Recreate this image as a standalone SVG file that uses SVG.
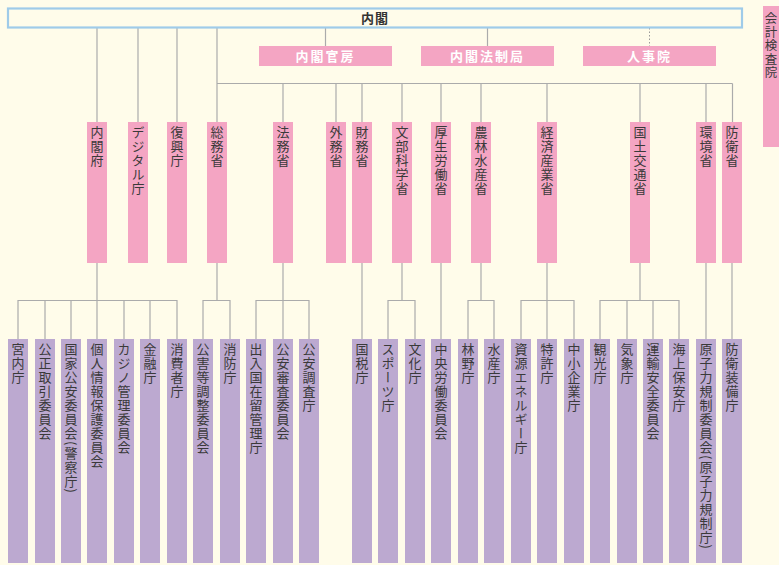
<svg xmlns="http://www.w3.org/2000/svg" width="779" height="565" viewBox="0 0 779 565">
<style>
.bg{fill:#fffcea}
.ln{stroke:#ababab;stroke-width:1.2;fill:none}
.dot{stroke:#9a9a9a;stroke-width:1;stroke-dasharray:1.5 2;fill:none}
.min{fill:#f4a5c3}
.ag{fill:#bca9d0}
.vt{font-family:"Noto Sans CJK JP","Noto Sans",sans-serif;font-size:13px;fill:#3a3a3a;writing-mode:vertical-rl;letter-spacing:1px}
.vt2{font-family:"Noto Sans CJK JP","Noto Sans",sans-serif;font-size:12.5px;fill:#3a3a3a;writing-mode:vertical-rl;letter-spacing:1px}
.wt{font-family:"Noto Sans CJK JP","Noto Sans",sans-serif;font-size:13px;fill:#ffffff;font-weight:bold;letter-spacing:2px;text-anchor:middle}
.tt{font-family:"Noto Sans CJK JP","Noto Sans",sans-serif;font-size:13px;fill:#333;font-weight:bold;letter-spacing:1px;text-anchor:middle}
</style>
<rect class="bg" x="0" y="0" width="779" height="565"/>

<g id="connectors">
  <line class="ln" x1="97" y1="28" x2="97" y2="122"/>
  <line class="ln" x1="138" y1="28" x2="138" y2="122"/>
  <line class="ln" x1="177" y1="28" x2="177" y2="122"/>
  <line class="ln" x1="217" y1="28" x2="217" y2="122"/>
  <line class="ln" x1="325.5" y1="28" x2="325.5" y2="46"/>
  <line class="ln" x1="487.5" y1="28" x2="487.5" y2="46"/>
  <line class="dot" x1="649.5" y1="28" x2="649.5" y2="46"/>
  <line class="ln" x1="217" y1="83.5" x2="732.5" y2="83.5"/>
  <line class="ln" x1="283" y1="83.5" x2="283" y2="122"/>
  <line class="ln" x1="336" y1="83.5" x2="336" y2="122"/>
  <line class="ln" x1="362" y1="83.5" x2="362" y2="122"/>
  <line class="ln" x1="402" y1="83.5" x2="402" y2="122"/>
  <line class="ln" x1="441" y1="83.5" x2="441" y2="122"/>
  <line class="ln" x1="481" y1="83.5" x2="481" y2="122"/>
  <line class="ln" x1="547" y1="83.5" x2="547" y2="122"/>
  <line class="ln" x1="640" y1="83.5" x2="640" y2="122"/>
  <line class="ln" x1="706" y1="83.5" x2="706" y2="122"/>
  <line class="ln" x1="732.5" y1="83.5" x2="732.5" y2="122"/>
  <line class="ln" x1="97" y1="263" x2="97" y2="339"/>
  <path class="ln" d="M18 339V300.5H177V339M45 300.5V339M71 300.5V339M124 300.5V339M150 300.5V339"/>
  <line class="ln" x1="217" y1="263" x2="217" y2="300.5"/>
  <path class="ln" d="M203 339V300.5H230V339"/>
  <line class="ln" x1="283" y1="263" x2="283" y2="339"/>
  <path class="ln" d="M256 339V300.5H309V339"/>
  <line class="ln" x1="362" y1="263" x2="362" y2="339"/>
  <line class="ln" x1="402" y1="263" x2="402" y2="300.5"/>
  <path class="ln" d="M388 339V300.5H415V339"/>
  <line class="ln" x1="441" y1="263" x2="441" y2="339"/>
  <line class="ln" x1="481" y1="263" x2="481" y2="300.5"/>
  <path class="ln" d="M468 339V300.5H494V339"/>
  <line class="ln" x1="547" y1="263" x2="547" y2="339"/>
  <path class="ln" d="M521 339V300.5H574V339"/>
  <line class="ln" x1="640" y1="263" x2="640" y2="300.5"/>
  <path class="ln" d="M600 339V300.5H679V339M627 300.5V339M653 300.5V339"/>
  <line class="ln" x1="706" y1="263" x2="706" y2="339"/>
  <line class="ln" x1="732" y1="263" x2="732" y2="339"/>
</g>

<g id="cabinet">
  <rect x="8" y="8.5" width="734" height="19" fill="#fffcea" stroke="#9fcbe9" stroke-width="2.2"/>
  <text class="tt" x="375" y="22.5">内閣</text>
</g>
<g id="cabinet-secretariat">
  <rect class="min" x="259" y="46" width="133" height="20"/>
  <text class="wt" x="325.5" y="60.5">内閣官房</text>
</g>
<g id="cabinet-legislation-bureau">
  <rect class="min" x="421" y="46" width="133" height="20"/>
  <text class="wt" x="487.5" y="60.5">内閣法制局</text>
</g>
<g id="national-personnel-authority">
  <rect class="min" x="583" y="46" width="133" height="20"/>
  <text class="wt" x="649.5" y="60.5">人事院</text>
</g>
<g id="board-of-audit">
  <rect class="min" x="763" y="6" width="20" height="141"/>
  <text class="vt2" x="771" y="12">会計検査院</text>
</g>

<g id="m-naikakufu"><rect class="min" x="87" y="122" width="20" height="141"/><text class="vt" x="97" y="126">内閣府</text></g>
<g id="m-digital"><rect class="min" x="128" y="122" width="20" height="141"/><text class="vt" x="138" y="126">デジタル庁</text></g>
<g id="m-fukko"><rect class="min" x="167" y="122" width="20" height="141"/><text class="vt" x="177" y="126">復興庁</text></g>
<g id="m-somu"><rect class="min" x="207" y="122" width="20" height="141"/><text class="vt" x="217" y="126">総務省</text></g>
<g id="m-homu"><rect class="min" x="273" y="122" width="20" height="141"/><text class="vt" x="283" y="126">法務省</text></g>
<g id="m-gaimu"><rect class="min" x="326" y="122" width="20" height="141"/><text class="vt" x="336" y="126">外務省</text></g>
<g id="m-zaimu"><rect class="min" x="352" y="122" width="20" height="141"/><text class="vt" x="362" y="126">財務省</text></g>
<g id="m-monbu"><rect class="min" x="392" y="122" width="20" height="141"/><text class="vt" x="402" y="126">文部科学省</text></g>
<g id="m-kosei"><rect class="min" x="431" y="122" width="20" height="141"/><text class="vt" x="441" y="126">厚生労働省</text></g>
<g id="m-norin"><rect class="min" x="471" y="122" width="20" height="141"/><text class="vt" x="481" y="126">農林水産省</text></g>
<g id="m-keizai"><rect class="min" x="537" y="122" width="20" height="141"/><text class="vt" x="547" y="126">経済産業省</text></g>
<g id="m-kokudo"><rect class="min" x="630" y="122" width="20" height="141"/><text class="vt" x="640" y="126">国土交通省</text></g>
<g id="m-kankyo"><rect class="min" x="696" y="122" width="20" height="141"/><text class="vt" x="706" y="126">環境省</text></g>
<g id="m-boei"><rect class="min" x="722" y="122" width="20" height="141"/><text class="vt" x="732" y="126">防衛省</text></g>

<g id="a-kunaicho"><rect class="ag" x="8" y="339" width="20" height="224"/><text class="vt" x="18" y="343">宮内庁</text></g>
<g id="a-kotori"><rect class="ag" x="35" y="339" width="20" height="224"/><text class="vt" x="45" y="343">公正取引委員会</text></g>
<g id="a-kokka-koan"><rect class="ag" x="61" y="339" width="20" height="224"/><text class="vt" x="71" y="343">国家公安委員会(警察庁)</text></g>
<g id="a-kojin-joho"><rect class="ag" x="87" y="339" width="20" height="224"/><text class="vt" x="97" y="343">個人情報保護委員会</text></g>
<g id="a-casino"><rect class="ag" x="114" y="339" width="20" height="224"/><text class="vt" x="124" y="343">カジノ管理委員会</text></g>
<g id="a-kinyu"><rect class="ag" x="140" y="339" width="20" height="224"/><text class="vt" x="150" y="343">金融庁</text></g>
<g id="a-shohisha"><rect class="ag" x="167" y="339" width="20" height="224"/><text class="vt" x="177" y="343">消費者庁</text></g>
<g id="a-kogai"><rect class="ag" x="193" y="339" width="20" height="224"/><text class="vt" x="203" y="343">公害等調整委員会</text></g>
<g id="a-shobo"><rect class="ag" x="220" y="339" width="20" height="224"/><text class="vt" x="230" y="343">消防庁</text></g>
<g id="a-nyukan"><rect class="ag" x="246" y="339" width="20" height="224"/><text class="vt" x="256" y="343">出入国在留管理庁</text></g>
<g id="a-koan-shinsa"><rect class="ag" x="273" y="339" width="20" height="224"/><text class="vt" x="283" y="343">公安審査委員会</text></g>
<g id="a-koan-chosa"><rect class="ag" x="299" y="339" width="20" height="224"/><text class="vt" x="309" y="343">公安調査庁</text></g>
<g id="a-kokuzei"><rect class="ag" x="352" y="339" width="20" height="224"/><text class="vt" x="362" y="343">国税庁</text></g>
<g id="a-sports"><rect class="ag" x="378" y="339" width="20" height="224"/><text class="vt" x="388" y="343">スポーツ庁</text></g>
<g id="a-bunka"><rect class="ag" x="405" y="339" width="20" height="224"/><text class="vt" x="415" y="343">文化庁</text></g>
<g id="a-chuo-rodo"><rect class="ag" x="431" y="339" width="20" height="224"/><text class="vt" x="441" y="343">中央労働委員会</text></g>
<g id="a-rinya"><rect class="ag" x="458" y="339" width="20" height="224"/><text class="vt" x="468" y="343">林野庁</text></g>
<g id="a-suisan"><rect class="ag" x="484" y="339" width="20" height="224"/><text class="vt" x="494" y="343">水産庁</text></g>
<g id="a-shigen"><rect class="ag" x="511" y="339" width="20" height="224"/><text class="vt" x="521" y="343">資源エネルギー庁</text></g>
<g id="a-tokkyo"><rect class="ag" x="537" y="339" width="20" height="224"/><text class="vt" x="547" y="343">特許庁</text></g>
<g id="a-chusho"><rect class="ag" x="564" y="339" width="20" height="224"/><text class="vt" x="574" y="343">中小企業庁</text></g>
<g id="a-kanko"><rect class="ag" x="590" y="339" width="20" height="224"/><text class="vt" x="600" y="343">観光庁</text></g>
<g id="a-kisho"><rect class="ag" x="617" y="339" width="20" height="224"/><text class="vt" x="627" y="343">気象庁</text></g>
<g id="a-unyu"><rect class="ag" x="643" y="339" width="20" height="224"/><text class="vt" x="653" y="343">運輸安全委員会</text></g>
<g id="a-kaijo"><rect class="ag" x="669" y="339" width="20" height="224"/><text class="vt" x="679" y="343">海上保安庁</text></g>
<g id="a-genshiryoku"><rect class="ag" x="696" y="339" width="20" height="224"/><text class="vt" x="706" y="343">原子力規制委員会(原子力規制庁)</text></g>
<g id="a-bosoubi"><rect class="ag" x="722" y="339" width="20" height="224"/><text class="vt" x="732" y="343">防衛装備庁</text></g>
</svg>
